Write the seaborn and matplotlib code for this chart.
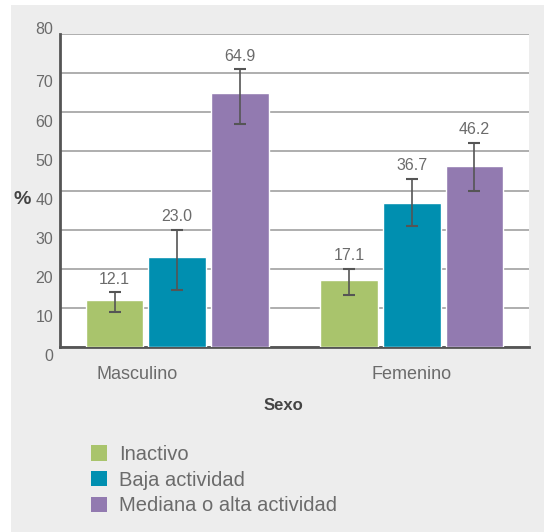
import numpy as np
import pandas as pd
import matplotlib
matplotlib.use("Agg")
import matplotlib.pyplot as plt
import matplotlib.transforms as mtransforms
from matplotlib.patches import Rectangle, Patch
import seaborn as sns

# data
sexo = ["Masculino", "Femenino"]
niveles = ["Inactivo", "Baja actividad", "Mediana o alta actividad"]
inactivo = [12.1, 17.1]
baja = [23.0, 36.7]
mediana = [64.9, 46.2]
# confidence interval limits (lower, upper)
inactivo_lo = [8.9, 13.3]
inactivo_hi = [14.0, 20.0]
baja_lo = [14.5, 30.8]
baja_hi = [30.0, 43.0]
mediana_lo = [57.0, 39.9]
mediana_hi = [71.0, 52.2]

colores = ["#a9c46c", "#008fb0", "#927ab0"]
gris_texto = "#6b6b6b"

valores = [inactivo, baja, mediana]
bajos = [inactivo_lo, baja_lo, mediana_lo]
altos = [inactivo_hi, baja_hi, mediana_hi]

df = pd.DataFrame({
    "Sexo": sexo * 3,
    "Nivel": [n for n in niveles for _ in sexo],
    "Porcentaje": inactivo + baja + mediana,
})

sns.set_style("white")
plt.rcParams['font.family'] = ['Liberation Sans', 'DejaVu Sans']

fig = plt.figure(figsize=(5.44, 5.32), dpi=100)
fig.patch.set_facecolor("white")
fig.patches.append(Rectangle((11 / 544, 0), 1, 1 - 5 / 532, transform=fig.transFigure,
                             facecolor="#ededed", edgecolor="none", zorder=-10))

ax = fig.add_axes([60 / 544, 1 - 347 / 532, (529 - 60) / 544, (347 - 34) / 532])
ax.set_facecolor("white")

sns.barplot(data=df, x="Sexo", y="Porcentaje", hue="Nivel", order=sexo,
            hue_order=niveles, palette=colores, width=0.8, gap=0.08,
            saturation=1, errorbar=None, legend=False, ax=ax, zorder=3)

for cont, val, lo, hi in zip(ax.containers, valores, bajos, altos):
    xs = [b.get_x() + b.get_width() / 2 for b in cont]
    val = np.array(val)
    yerr = [val - np.array(lo), np.array(hi) - val]
    ax.errorbar(xs, val, yerr=yerr, fmt="none", ecolor="#555555", elinewidth=1.2,
                capsize=4, capthick=1.5, zorder=4)
    for x, v, h in zip(xs, val, hi):
        ax.annotate(f"{v:.1f}", (x, h), xytext=(0, 4),
                    textcoords="offset points", ha="center", va="bottom",
                    fontsize=11.5, color=gris_texto)

ax.set_ylim(0, 80)
ax.set_yticks(np.arange(0, 81, 10))
ax.set_xlim(-0.5, 1.5)
ax.grid(axis="y", color="#a8a8a8", linewidth=1.3, zorder=0)
ax.set_axisbelow(True)

for s in ["top", "right"]:
    ax.spines[s].set_visible(False)
for s in ["left", "bottom"]:
    ax.spines[s].set_color("#555555")
    ax.spines[s].set_linewidth(2)

ax.tick_params(axis="y", length=0, pad=5, labelsize=11.5, labelcolor=gris_texto)
ax.tick_params(axis="x", which="major", length=0, pad=14, labelsize=13,
               labelcolor=gris_texto)
ax.set_xticks([0.5, 1.5], minor=True)
ax.tick_params(axis="x", which="minor", direction="in", length=5, width=1.5,
               color="#555555")

# label offsets seen in the reference
for lab in ax.get_yticklabels():
    dy = 4 if lab.get_text() == "80" else -6
    lab.set_transform(lab.get_transform() +
                      mtransforms.ScaledTranslation(0, dy / 72, fig.dpi_scale_trans))
xl = ax.get_xticklabels()
xl[0].set_transform(xl[0].get_transform() +
                    mtransforms.ScaledTranslation(-40 / 100, 0, fig.dpi_scale_trans))

ax.set_xlabel("Sexo", fontsize=12, fontweight="bold", color="#444444")
ax.xaxis.set_label_coords((283 - 60) / 469, (347 - 406) / 313)
ax.xaxis.label.set_va("center")
ax.set_ylabel("%", fontsize=14, fontweight="bold", color="#444444", rotation=0)
ax.yaxis.set_label_coords((22 - 60) / 469, (347 - 199) / 313)
ax.yaxis.label.set_va("center")
ax.yaxis.label.set_ha("center")

handles = [Patch(facecolor=c, edgecolor="none") for c in colores]
fig.legend(handles, niveles, loc="upper left", bbox_to_anchor=(91 / 544, 1 - 445 / 532),
           frameon=False, borderpad=0, borderaxespad=0, fontsize=14.5,
           handlelength=0.8, handleheight=0.8, handletextpad=0.6,
           labelspacing=0.33, labelcolor=gris_texto)

fig.savefig("out.png", dpi=100, facecolor=fig.get_facecolor())
